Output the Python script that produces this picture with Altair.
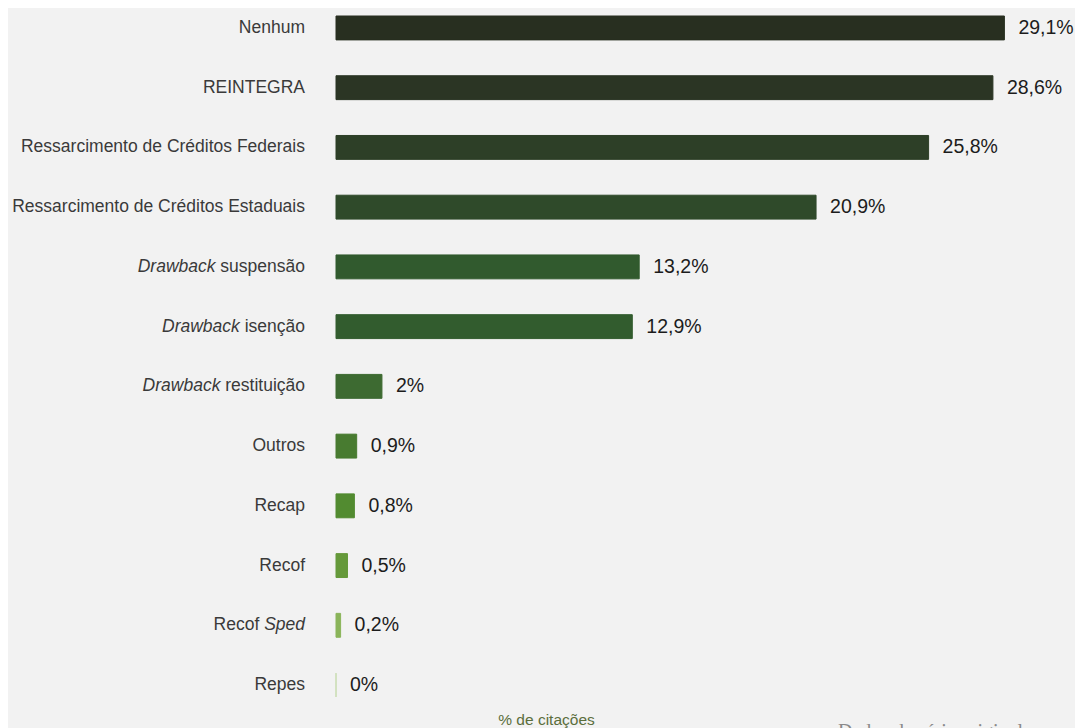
import altair as alt
import pandas as pd

# ---- data ----
categories = [
    "Nenhum",
    "REINTEGRA",
    "Ressarcimento de Créditos Federais",
    "Ressarcimento de Créditos Estaduais",
    "Drawback suspensão",
    "Drawback isenção",
    "Drawback restituição",
    "Outros",
    "Recap",
    "Recof",
    "Recof Sped",
    "Repes",
]
values = [29.1, 28.6, 25.8, 20.9, 13.2, 12.9, 2.0, 0.9, 0.8, 0.5, 0.2, 0.0]
italic_prefix = ["", "", "", "", "Drawback", "Drawback", "Drawback", "", "", "", "", ""]
italic_suffix = ["", "", "", "", "", "", "", "", "", "", "Sped", ""]
colors = [
    "#282f20", "#2b3524", "#2d3f27", "#2f4a2a", "#315a2e", "#325c2e",
    "#3d6a31", "#487b30", "#528b30", "#65993a", "#8ab45a", "#c8dcb0",
]

FONT = "Liberation Sans"
LABEL_SIZE = 17.5
LABEL_GAP = 31

# Arial / Liberation Sans advance widths (per 1000 em)
_W = {" ": 278, "s": 500, "u": 556, "p": 556, "e": 556, "n": 556, "ã": 556,
      "o": 556, "i": 222, "ç": 500, "r": 333, "t": 278, "S": 667, "d": 556,
      "c": 500, "a": 556, "R": 722, "f": 278, "D": 722, "w": 722, "b": 556,
      "k": 500}


def text_width(s, size=LABEL_SIZE):
    return sum(_W.get(ch, 556) for ch in s) * size / 1000.0


def fmt(v):
    s = f"{v:.1f}"
    if s.endswith(".0"):
        s = s[:-2]
    return s.replace(".", ",") + "%"


rows = []
for cat, v, pre, suf in zip(categories, values, italic_prefix, italic_suffix):
    if pre:
        normal = cat[len(pre) + 1:]
        ital = pre
        nx = -LABEL_GAP
        ix = -LABEL_GAP - text_width(" " + normal)
    elif suf:
        normal = cat[: -len(suf) - 1]
        ital = suf
        ix = -LABEL_GAP
        nx = -LABEL_GAP - text_width(" " + suf)
    else:
        normal = cat
        ital = ""
        nx = -LABEL_GAP
        ix = -LABEL_GAP
    rows.append(dict(cat=cat, value=v, vlabel=fmt(v), normal=normal, ital=ital,
                     nx=nx, ix=ix))
df = pd.DataFrame(rows)

y_enc = alt.Y("cat:N", sort=categories, axis=None,
              scale=alt.Scale(paddingInner=0.6, paddingOuter=0.134))
color_scale = alt.Scale(domain=categories, range=colors)

base = alt.Chart(df)

bars = base.mark_bar(strokeWidth=1).encode(
    x=alt.X("value:Q", scale=alt.Scale(domain=[0, 32], nice=False),
            axis=alt.Axis(title="% de citações", labels=False, ticks=False,
                          domain=False, grid=False, titleX=210, titleY=19,
                          titleAlign="center", titleBaseline="alphabetic",
                          titleFont=FONT, titleFontSize=15.5,
                          titleFontWeight="normal", titleColor="#5b6e3c")),
    y=y_enc,
    color=alt.Color("cat:N", scale=color_scale, legend=None),
    stroke=alt.Stroke("cat:N", scale=color_scale, legend=None),
)

value_text = base.mark_text(align="left", baseline="middle", dx=14,
                            font=FONT, fontSize=19.5, color="#1c1c1c").encode(
    x=alt.X("value:Q"),
    y=y_enc,
    text="vlabel:N",
)

normal_text = base.mark_text(align="right", baseline="middle", font=FONT,
                             fontSize=LABEL_SIZE, color="#3a3a3a").encode(
    x=alt.X("nx:Q", scale=None, axis=None),
    y=y_enc,
    text="normal:N",
)

ital_text = base.mark_text(align="right", baseline="middle", font=FONT,
                           fontSize=LABEL_SIZE, fontStyle="italic",
                           color="#3a3a3a").encode(
    x=alt.X("ix:Q", scale=None, axis=None),
    y=y_enc,
    text="ital:N",
)

caption = alt.Chart(pd.DataFrame({"t": ["Dados da série original"]})).mark_text(
    align="left", baseline="top", font="Liberation Serif", fontSize=20,
    color="#8a8a8a").encode(
    x=alt.value(502), y=alt.value(714), text="t:N")

chart = alt.layer(bars, value_text, normal_text, ital_text, caption).properties(
    width=735, height=697,
    padding={"left": 328, "top": 0, "right": 4, "bottom": 31},
    autosize=alt.AutoSizeParams(type="none"),
    background="#f2f2f2",
).configure_view(stroke=None)

chart.save("out.html", embed_options={"renderer": "svg", "actions": False})
